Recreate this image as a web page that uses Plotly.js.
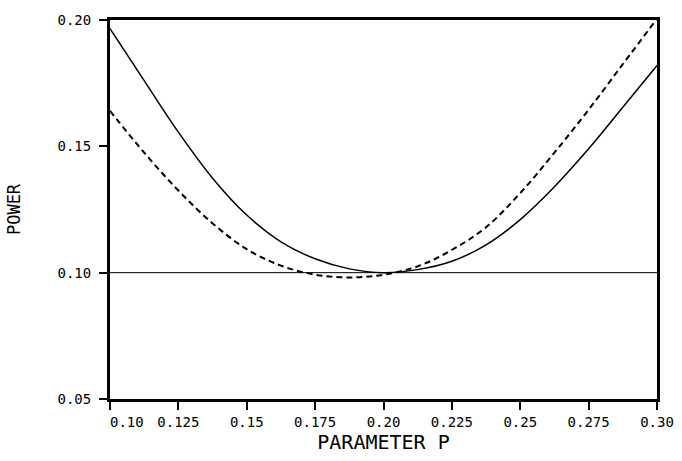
<!DOCTYPE html>
<html>
<head>
<meta charset="utf-8">
<script src="https://cdn.plot.ly/plotly-3.0.1.min.js"></script>
<style>html,body{margin:0;padding:0;background:#fff;}#chart{width:682px;height:461px;}</style>
</head>
<body>
<div id="chart"></div>
<script>
// Parameter P values
var paramP = [0.1, 0.1125, 0.125, 0.1375, 0.15, 0.1625, 0.175, 0.1875, 0.2, 0.2125, 0.225, 0.2375, 0.25, 0.2625, 0.275, 0.2875, 0.3];
// Solid curve
var powerSolid = [0.1966, 0.176, 0.1556, 0.1374, 0.1228, 0.1122, 0.1055, 0.1015, 0.1, 0.1012, 0.1045, 0.111, 0.121, 0.134, 0.149, 0.1655, 0.182];
// Dashed curve
var powerDashed = [0.164, 0.1475, 0.1325, 0.1195, 0.1093, 0.1028, 0.0992, 0.0981, 0.0992, 0.1025, 0.109, 0.118, 0.1315, 0.1475, 0.1645, 0.1825, 0.2005];
// Reference level
var refLevel = 0.10;
// Ticks
var xTickVals = [0.1, 0.125, 0.15, 0.175, 0.2, 0.225, 0.25, 0.275, 0.3];
var xTickText = ["\u00a0\u00a0\u00a0\u00a00.10", "0.125", "0.15", "0.175", "0.20", "0.225", "0.25", "0.275", "0.30"];
var yTickVals = [0.05, 0.10, 0.15, 0.20];
var yTickText = ["0.05", "0.10", "0.15", "0.20"];

var fontFam = "DejaVu Sans Mono, monospace";

var traces = [
  {x: paramP, y: powerSolid, type: 'scatter', mode: 'lines',
   line: {color: '#000', width: 1.5, shape: 'spline', smoothing: 1}},
  {x: paramP, y: powerDashed, type: 'scatter', mode: 'lines',
   line: {color: '#000', width: 2, dash: '6px,4px', shape: 'spline', smoothing: 1}}
];

var layout = {
  width: 682, height: 461,
  margin: {l: 110, r: 25, t: 20, b: 62},
  paper_bgcolor: '#fff', plot_bgcolor: '#fff',
  showlegend: false,
  font: {family: fontFam, color: '#000', size: 13},
  xaxis: {
    range: [0.1, 0.3], tickvals: xTickVals, ticktext: xTickText,
    showgrid: false, zeroline: false,
    showline: true, mirror: true, linewidth: 3, linecolor: '#000',
    ticks: 'outside', ticklen: 8, tickwidth: 2, tickcolor: '#000',
    tickfont: {family: fontFam, size: 14, color: '#000'},
    title: {text: 'PARAMETER P', font: {family: fontFam, size: 20, color: '#000'}, standoff: 5}
  },
  yaxis: {
    range: [0.05, 0.2], tickvals: yTickVals, ticktext: yTickText,
    showgrid: false, zeroline: false,
    showline: true, mirror: true, linewidth: 3, linecolor: '#000',
    ticks: 'outside', ticklen: 8, tickwidth: 2, tickcolor: '#000',
    ticklabelstandoff: 5,
    tickfont: {family: fontFam, size: 14, color: '#000'},
    title: {text: 'POWER', font: {family: fontFam, size: 17, color: '#000'}, standoff: 33}
  },
  shapes: [
    {type: 'line', xref: 'paper', x0: 0, x1: 1, yref: 'y', y0: refLevel, y1: refLevel,
     line: {color: '#000', width: 1}}
  ]
};

Plotly.newPlot('chart', traces, layout, {displayModeBar: false, staticPlot: true});
</script>
</body>
</html>
